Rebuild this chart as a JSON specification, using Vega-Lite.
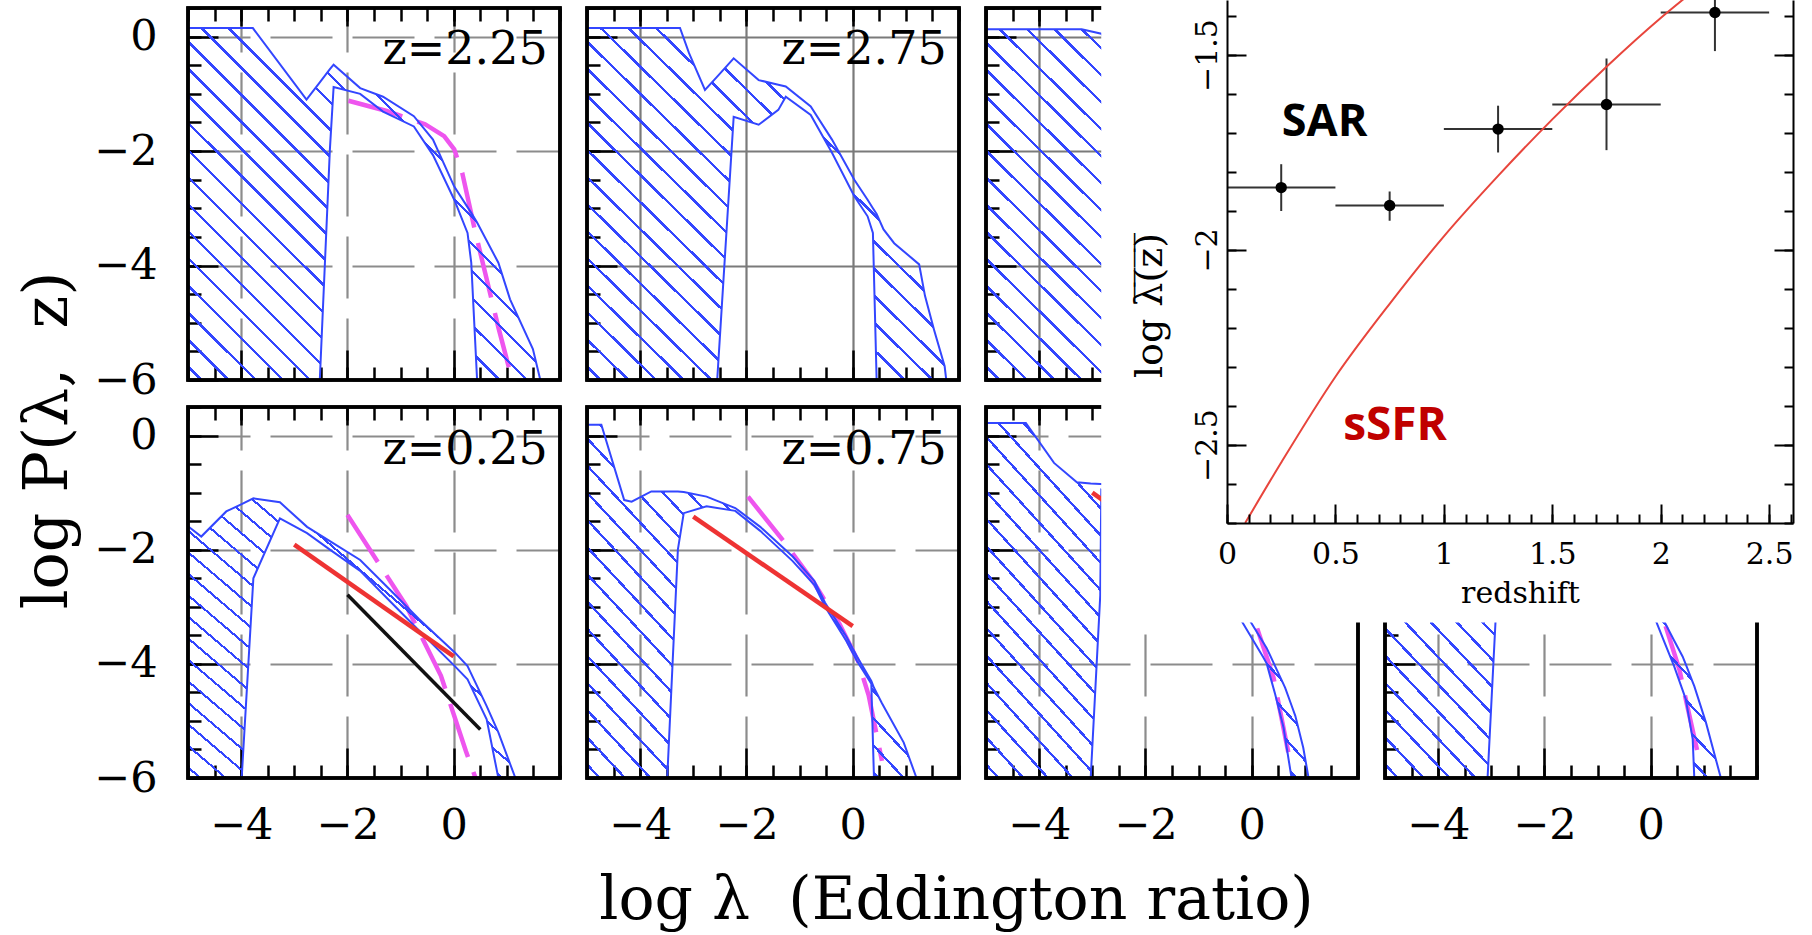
{
"width": 1812, "height": 935, "padding": 0, "autosize": {"type": "none"},
"background": "#ffffff",
"config": {
 "view": {"stroke": null},
 "axis": {"domain": false, "grid": false, "labels": false, "tickColor": "#000000", "tickWidth": 2.5, "labelFont": "DejaVu Serif", "labelFontSize": 43, "labelColor": "#000000", "labelFlush": false, "labelOverlap": false, "titleFont": "DejaVu Serif", "titleFontWeight": "normal", "titleColor": "#000000", "gridColor": "#8c8c8c", "gridWidth": 2.2, "gridOpacity": 1},
 "area": {"stroke": "#3346ff", "strokeWidth": 2, "fill": {"gradient": "linear", "x1": 0, "y1": 1, "x2": 1, "y2": 0, "stops": [
  {"offset":0.0167,"color":"rgba(51,70,255,0)"},{"offset":0.0167,"color":"#3346ff"},{"offset":0.0217,"color":"#3346ff"},{"offset":0.0217,"color":"rgba(51,70,255,0)"},
  {"offset":0.0552,"color":"rgba(51,70,255,0)"},{"offset":0.0552,"color":"#3346ff"},{"offset":0.0602,"color":"#3346ff"},{"offset":0.0602,"color":"rgba(51,70,255,0)"},
  {"offset":0.0937,"color":"rgba(51,70,255,0)"},{"offset":0.0937,"color":"#3346ff"},{"offset":0.0987,"color":"#3346ff"},{"offset":0.0987,"color":"rgba(51,70,255,0)"},
  {"offset":0.1321,"color":"rgba(51,70,255,0)"},{"offset":0.1321,"color":"#3346ff"},{"offset":0.1371,"color":"#3346ff"},{"offset":0.1371,"color":"rgba(51,70,255,0)"},
  {"offset":0.1706,"color":"rgba(51,70,255,0)"},{"offset":0.1706,"color":"#3346ff"},{"offset":0.1756,"color":"#3346ff"},{"offset":0.1756,"color":"rgba(51,70,255,0)"},
  {"offset":0.2090,"color":"rgba(51,70,255,0)"},{"offset":0.2090,"color":"#3346ff"},{"offset":0.2140,"color":"#3346ff"},{"offset":0.2140,"color":"rgba(51,70,255,0)"},
  {"offset":0.2475,"color":"rgba(51,70,255,0)"},{"offset":0.2475,"color":"#3346ff"},{"offset":0.2525,"color":"#3346ff"},{"offset":0.2525,"color":"rgba(51,70,255,0)"},
  {"offset":0.2860,"color":"rgba(51,70,255,0)"},{"offset":0.2860,"color":"#3346ff"},{"offset":0.2910,"color":"#3346ff"},{"offset":0.2910,"color":"rgba(51,70,255,0)"},
  {"offset":0.3244,"color":"rgba(51,70,255,0)"},{"offset":0.3244,"color":"#3346ff"},{"offset":0.3294,"color":"#3346ff"},{"offset":0.3294,"color":"rgba(51,70,255,0)"},
  {"offset":0.3629,"color":"rgba(51,70,255,0)"},{"offset":0.3629,"color":"#3346ff"},{"offset":0.3679,"color":"#3346ff"},{"offset":0.3679,"color":"rgba(51,70,255,0)"},
  {"offset":0.4013,"color":"rgba(51,70,255,0)"},{"offset":0.4013,"color":"#3346ff"},{"offset":0.4063,"color":"#3346ff"},{"offset":0.4063,"color":"rgba(51,70,255,0)"},
  {"offset":0.4398,"color":"rgba(51,70,255,0)"},{"offset":0.4398,"color":"#3346ff"},{"offset":0.4448,"color":"#3346ff"},{"offset":0.4448,"color":"rgba(51,70,255,0)"},
  {"offset":0.4783,"color":"rgba(51,70,255,0)"},{"offset":0.4783,"color":"#3346ff"},{"offset":0.4833,"color":"#3346ff"},{"offset":0.4833,"color":"rgba(51,70,255,0)"},
  {"offset":0.5167,"color":"rgba(51,70,255,0)"},{"offset":0.5167,"color":"#3346ff"},{"offset":0.5217,"color":"#3346ff"},{"offset":0.5217,"color":"rgba(51,70,255,0)"},
  {"offset":0.5552,"color":"rgba(51,70,255,0)"},{"offset":0.5552,"color":"#3346ff"},{"offset":0.5602,"color":"#3346ff"},{"offset":0.5602,"color":"rgba(51,70,255,0)"},
  {"offset":0.5937,"color":"rgba(51,70,255,0)"},{"offset":0.5937,"color":"#3346ff"},{"offset":0.5987,"color":"#3346ff"},{"offset":0.5987,"color":"rgba(51,70,255,0)"},
  {"offset":0.6321,"color":"rgba(51,70,255,0)"},{"offset":0.6321,"color":"#3346ff"},{"offset":0.6371,"color":"#3346ff"},{"offset":0.6371,"color":"rgba(51,70,255,0)"},
  {"offset":0.6706,"color":"rgba(51,70,255,0)"},{"offset":0.6706,"color":"#3346ff"},{"offset":0.6756,"color":"#3346ff"},{"offset":0.6756,"color":"rgba(51,70,255,0)"},
  {"offset":0.7090,"color":"rgba(51,70,255,0)"},{"offset":0.7090,"color":"#3346ff"},{"offset":0.7140,"color":"#3346ff"},{"offset":0.7140,"color":"rgba(51,70,255,0)"},
  {"offset":0.7475,"color":"rgba(51,70,255,0)"},{"offset":0.7475,"color":"#3346ff"},{"offset":0.7525,"color":"#3346ff"},{"offset":0.7525,"color":"rgba(51,70,255,0)"},
  {"offset":0.7860,"color":"rgba(51,70,255,0)"},{"offset":0.7860,"color":"#3346ff"},{"offset":0.7910,"color":"#3346ff"},{"offset":0.7910,"color":"rgba(51,70,255,0)"},
  {"offset":0.8244,"color":"rgba(51,70,255,0)"},{"offset":0.8244,"color":"#3346ff"},{"offset":0.8294,"color":"#3346ff"},{"offset":0.8294,"color":"rgba(51,70,255,0)"},
  {"offset":0.8629,"color":"rgba(51,70,255,0)"},{"offset":0.8629,"color":"#3346ff"},{"offset":0.8679,"color":"#3346ff"},{"offset":0.8679,"color":"rgba(51,70,255,0)"},
  {"offset":0.9013,"color":"rgba(51,70,255,0)"},{"offset":0.9013,"color":"#3346ff"},{"offset":0.9063,"color":"#3346ff"},{"offset":0.9063,"color":"rgba(51,70,255,0)"},
  {"offset":0.9398,"color":"rgba(51,70,255,0)"},{"offset":0.9398,"color":"#3346ff"},{"offset":0.9448,"color":"#3346ff"},{"offset":0.9448,"color":"rgba(51,70,255,0)"},
  {"offset":0.9783,"color":"rgba(51,70,255,0)"},{"offset":0.9783,"color":"#3346ff"},{"offset":0.9833,"color":"#3346ff"},{"offset":0.9833,"color":"rgba(51,70,255,0)"}
 ]}}
},
"datasets": {
 "bands": [
  {"z":"2.25","x":-5,"upper":0.15,"lower":-6},{"z":"2.25","x":-3.78,"upper":0.15,"lower":-6},{"z":"2.25","x":-2.77,"upper":-1.1,"lower":-6},{"z":"2.25","x":-2.52,"upper":-0.8,"lower":-6},{"z":"2.25","x":-2.33,"upper":-0.57,"lower":-1.97},{"z":"2.25","x":-2.26,"upper":-0.49,"lower":-0.88},{"z":"2.25","x":-1.76,"upper":-0.9,"lower":-1.0},{"z":"2.25","x":-1.33,"upper":-1.05,"lower":-1.31},{"z":"2.25","x":-0.75,"upper":-1.39,"lower":-1.57},{"z":"2.25","x":-0.39,"upper":-1.8,"lower":-2.07},{"z":"2.25","x":0.01,"upper":-2.62,"lower":-2.85},{"z":"2.25","x":0.26,"upper":-2.98,"lower":-3.43},{"z":"2.25","x":0.33,"upper":-3.08,"lower":-3.95},{"z":"2.25","x":0.44,"upper":-3.25,"lower":-6},{"z":"2.25","x":0.84,"upper":-3.95,"lower":-6},{"z":"2.25","x":1.06,"upper":-4.59,"lower":-6},{"z":"2.25","x":1.49,"upper":-5.46,"lower":-6},{"z":"2.25","x":1.63,"upper":-6,"lower":-6},
  {"z":"2.75","x":-5,"upper":0.15,"lower":-6},{"z":"2.75","x":-3.25,"upper":0.15,"lower":-6},{"z":"2.75","x":-3.08,"upper":-0.29,"lower":-6},{"z":"2.75","x":-2.78,"upper":-0.93,"lower":-6},{"z":"2.75","x":-2.55,"upper":-0.7,"lower":-6},{"z":"2.75","x":-2.24,"upper":-0.38,"lower":-1.4},{"z":"2.75","x":-1.77,"upper":-0.76,"lower":-1.54},{"z":"2.75","x":-1.4,"upper":-0.84,"lower":-1.28},{"z":"2.75","x":-1.26,"upper":-0.87,"lower":-1.05},{"z":"2.75","x":-0.79,"upper":-1.22,"lower":-1.37},{"z":"2.75","x":-0.39,"upper":-1.8,"lower":-2.03},{"z":"2.75","x":0.03,"upper":-2.5,"lower":-2.79},{"z":"2.75","x":0.28,"upper":-2.85,"lower":-3.14},{"z":"2.75","x":0.38,"upper":-3.0,"lower":-3.43},{"z":"2.75","x":0.45,"upper":-3.1,"lower":-6},{"z":"2.75","x":0.58,"upper":-3.37,"lower":-6},{"z":"2.75","x":0.78,"upper":-3.61,"lower":-6},{"z":"2.75","x":1.25,"upper":-3.98,"lower":-6},{"z":"2.75","x":1.36,"upper":-4.53,"lower":-6},{"z":"2.75","x":1.53,"upper":-5.12,"lower":-6},{"z":"2.75","x":1.73,"upper":-5.76,"lower":-6},{"z":"2.75","x":1.76,"upper":-6,"lower":-6},
  {"z":"3.25","x":-5,"upper":0.13,"lower":-6},{"z":"3.25","x":-3.2,"upper":0.13,"lower":-6},{"z":"3.25","x":-2.83,"upper":0.05,"lower":-6},{"z":"3.25","x":-2.3,"upper":-0.5,"lower":-6},{"z":"3.25","x":-2.1,"upper":-0.8,"lower":-1.2},{"z":"3.25","x":-1.0,"upper":-1.5,"lower":-1.8},{"z":"3.25","x":0.0,"upper":-2.6,"lower":-3.0},{"z":"3.25","x":0.4,"upper":-3.2,"lower":-6},{"z":"3.25","x":1.2,"upper":-4.5,"lower":-6},{"z":"3.25","x":1.7,"upper":-6,"lower":-6},
  {"z":"0.25","x":-5,"upper":-1.59,"lower":-6},{"z":"0.25","x":-4.75,"upper":-1.77,"lower":-6},{"z":"0.25","x":-4.28,"upper":-1.33,"lower":-6},{"z":"0.25","x":-3.99,"upper":-1.2,"lower":-6},{"z":"0.25","x":-3.77,"upper":-1.1,"lower":-2.5},{"z":"0.25","x":-3.27,"upper":-1.17,"lower":-1.45},{"z":"0.25","x":-2.76,"upper":-1.6,"lower":-1.71},{"z":"0.25","x":-2.33,"upper":-1.85,"lower":-2.0},{"z":"0.25","x":-1.76,"upper":-2.18,"lower":-2.37},{"z":"0.25","x":-1.18,"upper":-2.72,"lower":-2.92},{"z":"0.25","x":-0.65,"upper":-3.22,"lower":-3.42},{"z":"0.25","x":0.02,"upper":-3.8,"lower":-4.04},{"z":"0.25","x":0.26,"upper":-4.04,"lower":-4.27},{"z":"0.25","x":0.62,"upper":-4.74,"lower":-4.97},{"z":"0.25","x":0.84,"upper":-5.2,"lower":-6},{"z":"0.25","x":1.16,"upper":-6,"lower":-6},
  {"z":"0.75","x":-5,"upper":0.19,"lower":-6},{"z":"0.75","x":-4.73,"upper":0.19,"lower":-6},{"z":"0.75","x":-4.3,"upper":-1.13,"lower":-6},{"z":"0.75","x":-4.16,"upper":-1.16,"lower":-6},{"z":"0.75","x":-3.79,"upper":-0.98,"lower":-6},{"z":"0.75","x":-3.49,"upper":-0.98,"lower":-6},{"z":"0.75","x":-3.29,"upper":-0.98,"lower":-2.0},{"z":"0.75","x":-3.18,"upper":-0.99,"lower":-1.36},{"z":"0.75","x":-2.75,"upper":-1.07,"lower":-1.24},{"z":"0.75","x":-2.21,"upper":-1.27,"lower":-1.32},{"z":"0.75","x":-1.74,"upper":-1.6,"lower":-1.67},{"z":"0.75","x":-1.13,"upper":-2.12,"lower":-2.2},{"z":"0.75","x":-0.72,"upper":-2.55,"lower":-2.62},{"z":"0.75","x":-0.52,"upper":-2.93,"lower":-3.0},{"z":"0.75","x":-0.12,"upper":-3.52,"lower":-3.6},{"z":"0.75","x":0.08,"upper":-3.87,"lower":-3.95},{"z":"0.75","x":0.35,"upper":-4.3,"lower":-4.35},{"z":"0.75","x":0.4,"upper":-4.42,"lower":-6},{"z":"0.75","x":0.55,"upper":-4.69,"lower":-6},{"z":"0.75","x":0.96,"upper":-5.38,"lower":-6},{"z":"0.75","x":1.2,"upper":-6,"lower":-6},
  {"z":"1.25","x":-5,"upper":0.22,"lower":-6},{"z":"1.25","x":-4.25,"upper":0.22,"lower":-6},{"z":"1.25","x":-3.72,"upper":-0.48,"lower":-6},{"z":"1.25","x":-3.29,"upper":-0.82,"lower":-6},{"z":"1.25","x":-3.03,"upper":-0.84,"lower":-6},{"z":"1.25","x":-2.85,"upper":-0.85,"lower":-2.8},{"z":"1.25","x":-2.83,"upper":-0.85,"lower":-0.95},{"z":"1.25","x":-2.0,"upper":-1.1,"lower":-1.3},{"z":"1.25","x":-1.0,"upper":-1.8,"lower":-2.1},{"z":"1.25","x":-0.5,"upper":-2.5,"lower":-2.8},{"z":"1.25","x":-0.19,"upper":-2.95,"lower":-3.25},{"z":"1.25","x":-0.03,"upper":-3.25,"lower":-3.5},{"z":"1.25","x":0.22,"upper":-3.63,"lower":-3.89},{"z":"1.25","x":0.28,"upper":-3.72,"lower":-3.99},{"z":"1.25","x":0.44,"upper":-4.04,"lower":-4.53},{"z":"1.25","x":0.6,"upper":-4.36,"lower":-5.12},{"z":"1.25","x":0.63,"upper":-4.42,"lower":-5.3},{"z":"1.25","x":0.75,"upper":-4.73,"lower":-6},{"z":"1.25","x":0.82,"upper":-4.91,"lower":-6},{"z":"1.25","x":0.97,"upper":-5.47,"lower":-6},{"z":"1.25","x":1.07,"upper":-6,"lower":-6},
  {"z":"1.75","x":-5,"upper":0.2,"lower":-6},{"z":"1.75","x":-3.07,"upper":-0.9,"lower":-6},{"z":"1.75","x":-2.92,"upper":-0.95,"lower":-3.25},{"z":"1.75","x":-2.85,"upper":-1.0,"lower":-1.2},{"z":"1.75","x":-1.5,"upper":-1.5,"lower":-1.8},{"z":"1.75","x":-0.5,"upper":-2.5,"lower":-2.8},{"z":"1.75","x":0.1,"upper":-3.0,"lower":-3.25},{"z":"1.75","x":0.25,"upper":-3.25,"lower":-3.6},{"z":"1.75","x":0.44,"upper":-3.59,"lower":-4.04},{"z":"1.75","x":0.6,"upper":-3.87,"lower":-4.46},{"z":"1.75","x":0.66,"upper":-4.01,"lower":-4.62},{"z":"1.75","x":0.79,"upper":-4.32,"lower":-5.32},{"z":"1.75","x":0.82,"upper":-4.39,"lower":-6},{"z":"1.75","x":1.04,"upper":-5.03,"lower":-6},{"z":"1.75","x":1.32,"upper":-6,"lower":-6}
 ],
 "curves": [
  {"z":"2.25","curve":"model","x":-1.98,"y":-1.12},{"z":"2.25","curve":"model","x":-1.26,"y":-1.3},{"z":"2.25","curve":"model","x":-0.54,"y":-1.53},{"z":"2.25","curve":"model","x":-0.18,"y":-1.74},{"z":"2.25","curve":"model","x":0.01,"y":-1.97},{"z":"2.25","curve":"model","x":0.16,"y":-2.38},{"z":"2.25","curve":"model","x":0.41,"y":-3.43},{"z":"2.25","curve":"model","x":0.84,"y":-5.08},{"z":"2.25","curve":"model","x":1.1,"y":-6},
  {"z":"0.25","curve":"model","x":-2.0,"y":-1.39},{"z":"0.25","curve":"model","x":-0.89,"y":-2.99},{"z":"0.25","curve":"model","x":-0.24,"y":-4.21},{"z":"0.25","curve":"model","x":0.23,"y":-5.53},{"z":"0.25","curve":"model","x":0.41,"y":-6},
  {"z":"0.25","curve":"fit","x":-3.0,"y":-1.91},{"z":"0.25","curve":"fit","x":0.0,"y":-3.87},
  {"z":"0.25","curve":"lowz","x":-2.0,"y":-2.79},{"z":"0.25","curve":"lowz","x":0.5,"y":-5.15},
  {"z":"0.75","curve":"model","x":-1.97,"y":-1.07},{"z":"0.75","curve":"model","x":-1.3,"y":-1.85},{"z":"0.75","curve":"model","x":-0.75,"y":-2.55},{"z":"0.75","curve":"model","x":-0.25,"y":-3.3},{"z":"0.75","curve":"model","x":0.1,"y":-3.95},{"z":"0.75","curve":"model","x":0.3,"y":-4.55},{"z":"0.75","curve":"model","x":0.55,"y":-5.7},
  {"z":"0.75","curve":"fit","x":-3.0,"y":-1.42},{"z":"0.75","curve":"fit","x":0.0,"y":-3.34},
  {"z":"1.25","curve":"model","x":-0.6,"y":-2.3},{"z":"1.25","curve":"model","x":0.1,"y":-3.37},{"z":"1.25","curve":"model","x":0.41,"y":-4.24},{"z":"1.25","curve":"model","x":0.72,"y":-5.7},
  {"z":"1.25","curve":"fit","x":-3.0,"y":-1.0},{"z":"1.25","curve":"fit","x":0.0,"y":-3.0},
  {"z":"1.75","curve":"model","x":-0.3,"y":-2.2},{"z":"1.75","curve":"model","x":0.25,"y":-3.25},{"z":"1.75","curve":"model","x":0.54,"y":-4.1},{"z":"1.75","curve":"model","x":0.66,"y":-4.62},{"z":"1.75","curve":"model","x":0.91,"y":-5.67}
 ],
 "sar": [
  {"z":0.25,"zlo":0,"zhi":0.5,"lam":-1.84,"lo":-1.9,"hi":-1.78},
  {"z":0.75,"zlo":0.5,"zhi":1,"lam":-1.886,"lo":-1.925,"hi":-1.85},
  {"z":1.25,"zlo":1,"zhi":1.5,"lam":-1.69,"lo":-1.75,"hi":-1.63},
  {"z":1.75,"zlo":1.5,"zhi":2,"lam":-1.627,"lo":-1.744,"hi":-1.509},
  {"z":2.25,"zlo":2,"zhi":2.5,"lam":-1.391,"lo":-1.49,"hi":-1.29}
 ],
 "ssfr": [
  {"z":0.084,"lam":-2.7},{"z":0.25,"lam":-2.545},{"z":0.5,"lam":-2.325},{"z":0.75,"lam":-2.138},{"z":1.0,"lam":-1.965},{"z":1.25,"lam":-1.81},{"z":1.5,"lam":-1.665},{"z":1.75,"lam":-1.53},{"z":2.0,"lam":-1.405},{"z":2.12,"lam":-1.35}
 ]
},
"layer": [
 {"layer": [
  {"data": {"name": "curves"}, "transform": [{"filter": "datum.z === '2.25' && datum.curve === 'model'"}], "mark": {"type": "line", "color": "#ee55ee", "strokeWidth": 4.5, "strokeDash": [56, 16]}, "encoding": {"x": {"field": "x", "type": "quantitative", "axis": null}, "y": {"field": "y", "type": "quantitative", "axis": null}}},
  {"data": {"name": "bands"}, "transform": [{"filter": "datum.z === '2.25'"}], "mark": {"type": "area"}, "encoding": {
    "x": {"field": "x", "type": "quantitative", "scale": {"domain": [-5, 2], "range": [188, 560], "nice": false, "zero": false}, "axis": {"orient": "bottom", "offset": -555, "values": [-4, -2, 0], "tickSize": -30, "title": null}},
    "y": {"field": "upper", "type": "quantitative", "scale": {"domain": [-6, 0.5], "range": [380, 8], "nice": false, "zero": false}, "axis": {"orient": "left", "offset": -188, "values": [0, -2, -4, -6], "tickSize": -30, "grid": true, "gridDash": [62, 20], "labels": true, "labelPadding": 61, "title": "log P(λ,\u00a0\u00a0z)", "titleFontSize": 62, "titleX": -141, "titleY": 440, "titleAngle": 270, "titleAlign": "center", "titleBaseline": "middle"}},
    "y2": {"field": "lower"}}},
  {"data": {"values": [{}]}, "mark": {"type": "rect", "fillOpacity": 0, "stroke": "#000000", "strokeWidth": 3.5}, "encoding": {
    "x": {"datum": -5, "type": "quantitative", "axis": {"orient": "bottom", "offset": -555, "values": [-5,-4.5,-4,-3.5,-3,-2.5,-2,-1.5,-1,-0.5,0,0.5,1,1.5,2], "tickSize": -13, "title": null}}, "x2": {"datum": 2},
    "y": {"datum": -6, "type": "quantitative", "axis": {"orient": "left", "offset": -188, "values": [0.5,0,-0.5,-1,-1.5,-2,-2.5,-3,-3.5,-4,-4.5,-5,-5.5,-6], "tickSize": -13, "title": null}}, "y2": {"datum": 0.5}}},
  {"data": {"values": [{}]}, "mark": {"type": "rect", "fillOpacity": 0, "stroke": "#000000", "strokeWidth": 3.5}, "encoding": {
    "x": {"datum": -5, "type": "quantitative", "axis": {"orient": "top", "offset": -8, "values": [-5,-4.5,-4,-3.5,-3,-2.5,-2,-1.5,-1,-0.5,0,0.5,1,1.5,2], "tickSize": -13, "title": null}}, "x2": {"datum": 2},
    "y": {"datum": -6, "type": "quantitative", "axis": null}, "y2": {"datum": 0.5}}},
  {"data": {"values": [{"label": "z=2.25"}]}, "mark": {"type": "text", "align": "right", "baseline": "middle", "font": "DejaVu Serif", "fontSize": 46, "color": "#000000"}, "encoding": {
    "x": {"datum": 1.77, "type": "quantitative", "axis": {"orient": "top", "offset": -8, "values": [-4, -2, 0], "tickSize": -18, "grid": true, "gridDash": [62, 20], "title": null}},
    "y": {"datum": -0.24, "type": "quantitative", "axis": null}, "text": {"field": "label"}}}
 ], "resolve": {"axis": {"x": "independent", "y": "independent"}}},

 {"layer": [
  {"data": {"name": "bands"}, "transform": [{"filter": "datum.z === '2.75'"}], "mark": {"type": "area"}, "encoding": {
    "x": {"field": "x", "type": "quantitative", "scale": {"domain": [-5, 2], "range": [587, 959], "nice": false, "zero": false}, "axis": {"orient": "bottom", "offset": -555, "values": [-4, -2, 0], "tickSize": -30, "title": null}},
    "y": {"field": "upper", "type": "quantitative", "scale": {"domain": [-6, 0.5], "range": [380, 8], "nice": false, "zero": false}, "axis": {"orient": "left", "offset": -587, "values": [0, -2, -4], "tickSize": -30, "grid": true, "gridColor": "#7a7a7a", "title": null}},
    "y2": {"field": "lower"}}},
  {"data": {"values": [{}]}, "mark": {"type": "rect", "fillOpacity": 0, "stroke": "#000000", "strokeWidth": 3.5}, "encoding": {
    "x": {"datum": -5, "type": "quantitative", "axis": {"orient": "bottom", "offset": -555, "values": [-5,-4.5,-4,-3.5,-3,-2.5,-2,-1.5,-1,-0.5,0,0.5,1,1.5,2], "tickSize": -13, "title": null}}, "x2": {"datum": 2},
    "y": {"datum": -6, "type": "quantitative", "axis": {"orient": "left", "offset": -587, "values": [0.5,0,-0.5,-1,-1.5,-2,-2.5,-3,-3.5,-4,-4.5,-5,-5.5,-6], "tickSize": -13, "title": null}}, "y2": {"datum": 0.5}}},
  {"data": {"values": [{}]}, "mark": {"type": "rect", "fillOpacity": 0, "stroke": "#000000", "strokeWidth": 3.5}, "encoding": {
    "x": {"datum": -5, "type": "quantitative", "axis": {"orient": "top", "offset": -8, "values": [-5,-4.5,-4,-3.5,-3,-2.5,-2,-1.5,-1,-0.5,0,0.5,1,1.5,2], "tickSize": -13, "title": null}}, "x2": {"datum": 2},
    "y": {"datum": -6, "type": "quantitative", "axis": null}, "y2": {"datum": 0.5}}},
  {"data": {"values": [{"label": "z=2.75"}]}, "mark": {"type": "text", "align": "right", "baseline": "middle", "font": "DejaVu Serif", "fontSize": 46, "color": "#000000"}, "encoding": {
    "x": {"datum": 1.77, "type": "quantitative", "axis": {"orient": "top", "offset": -8, "values": [-4, -2, 0], "tickSize": -18, "grid": true, "gridColor": "#7a7a7a", "title": null}},
    "y": {"datum": -0.24, "type": "quantitative", "axis": null}, "text": {"field": "label"}}}
 ], "resolve": {"axis": {"x": "independent", "y": "independent"}}},

 {"layer": [
  {"data": {"name": "bands"}, "transform": [{"filter": "datum.z === '3.25'"}], "mark": {"type": "area"}, "encoding": {
    "x": {"field": "x", "type": "quantitative", "scale": {"domain": [-5, 2], "range": [986, 1358], "nice": false, "zero": false}, "axis": {"orient": "bottom", "offset": -555, "values": [-4, -2, 0], "tickSize": -30, "title": null}},
    "y": {"field": "upper", "type": "quantitative", "scale": {"domain": [-6, 0.5], "range": [380, 8], "nice": false, "zero": false}, "axis": {"orient": "left", "offset": -986, "values": [0, -2, -4], "tickSize": -30, "grid": true, "gridColor": "#7a7a7a", "title": null}},
    "y2": {"field": "lower"}}},
  {"data": {"values": [{}]}, "mark": {"type": "rect", "fillOpacity": 0, "stroke": "#000000", "strokeWidth": 3.5}, "encoding": {
    "x": {"datum": -5, "type": "quantitative", "axis": {"orient": "bottom", "offset": -555, "values": [-5,-4.5,-4,-3.5,-3,-2.5,-2,-1.5,-1,-0.5,0,0.5,1,1.5,2], "tickSize": -13, "title": null}}, "x2": {"datum": 2},
    "y": {"datum": -6, "type": "quantitative", "axis": {"orient": "left", "offset": -986, "values": [0.5,0,-0.5,-1,-1.5,-2,-2.5,-3,-3.5,-4,-4.5,-5,-5.5,-6], "tickSize": -13, "title": null}}, "y2": {"datum": 0.5}}},
  {"data": {"values": [{}]}, "mark": {"type": "rect", "fillOpacity": 0, "stroke": "#000000", "strokeWidth": 3.5}, "encoding": {
    "x": {"datum": -5, "type": "quantitative", "axis": {"orient": "top", "offset": -8, "values": [-5,-4.5,-4,-3.5,-3,-2.5,-2,-1.5,-1,-0.5,0,0.5,1,1.5,2], "tickSize": -13, "title": null}}, "x2": {"datum": 2},
    "y": {"datum": -6, "type": "quantitative", "axis": null}, "y2": {"datum": 0.5}}},
  {"data": {"values": [{"label": "z=3.25"}]}, "mark": {"type": "text", "align": "right", "baseline": "middle", "font": "DejaVu Serif", "fontSize": 46, "color": "#000000"}, "encoding": {
    "x": {"datum": 1.77, "type": "quantitative", "axis": {"orient": "top", "offset": -8, "values": [-4, -2, 0], "tickSize": -18, "grid": true, "gridColor": "#7a7a7a", "title": null}},
    "y": {"datum": -0.24, "type": "quantitative", "axis": null}, "text": {"field": "label"}}}
 ], "resolve": {"axis": {"x": "independent", "y": "independent"}}},

 {"layer": [
  {"data": {"name": "curves"}, "transform": [{"filter": "datum.z === '0.25' && datum.curve === 'model'"}], "mark": {"type": "line", "color": "#ee55ee", "strokeWidth": 4.5, "strokeDash": [56, 16]}, "encoding": {"x": {"field": "x", "type": "quantitative", "axis": null}, "y": {"field": "y", "type": "quantitative", "axis": null}}},
  {"data": {"name": "bands"}, "transform": [{"filter": "datum.z === '0.25'"}], "mark": {"type": "area"}, "encoding": {
    "x": {"field": "x", "type": "quantitative", "scale": {"domain": [-5, 2], "range": [188, 560], "nice": false, "zero": false}, "axis": {"orient": "bottom", "offset": -157, "values": [-4, -2, 0], "tickSize": -30, "labels": true, "labelPadding": 56, "title": "log λ\u00a0\u00a0(Eddington ratio)", "titleFontSize": 60, "titleX": 956, "titleY": 140, "titleAlign": "center", "titleBaseline": "alphabetic"}},
    "y": {"field": "upper", "type": "quantitative", "scale": {"domain": [-6, 0.5], "range": [778, 407], "nice": false, "zero": false}, "axis": {"orient": "left", "offset": -188, "values": [0, -2, -4, -6], "tickSize": -30, "grid": true, "gridDash": [62, 20], "labels": true, "labelPadding": 61, "title": null}},
    "y2": {"field": "lower"}}},
  {"data": {"name": "curves"}, "transform": [{"filter": "datum.z === '0.25' && datum.curve === 'fit'"}], "mark": {"type": "line", "color": "#ee3333", "strokeWidth": 4.5}, "encoding": {"x": {"field": "x", "type": "quantitative", "axis": null}, "y": {"field": "y", "type": "quantitative", "axis": null}}},
  {"data": {"name": "curves"}, "transform": [{"filter": "datum.z === '0.25' && datum.curve === 'lowz'"}], "mark": {"type": "line", "color": "#111111", "strokeWidth": 3.5}, "encoding": {"x": {"field": "x", "type": "quantitative", "axis": null}, "y": {"field": "y", "type": "quantitative", "axis": null}}},
  {"data": {"values": [{}]}, "mark": {"type": "rect", "fillOpacity": 0, "stroke": "#000000", "strokeWidth": 3.5}, "encoding": {
    "x": {"datum": -5, "type": "quantitative", "axis": {"orient": "bottom", "offset": -157, "values": [-5,-4.5,-4,-3.5,-3,-2.5,-2,-1.5,-1,-0.5,0,0.5,1,1.5,2], "tickSize": -13, "title": null}}, "x2": {"datum": 2},
    "y": {"datum": -6, "type": "quantitative", "axis": {"orient": "left", "offset": -188, "values": [0.5,0,-0.5,-1,-1.5,-2,-2.5,-3,-3.5,-4,-4.5,-5,-5.5,-6], "tickSize": -13, "title": null}}, "y2": {"datum": 0.5}}},
  {"data": {"values": [{}]}, "mark": {"type": "rect", "fillOpacity": 0, "stroke": "#000000", "strokeWidth": 3.5}, "encoding": {
    "x": {"datum": -5, "type": "quantitative", "axis": {"orient": "top", "offset": -407, "values": [-5,-4.5,-4,-3.5,-3,-2.5,-2,-1.5,-1,-0.5,0,0.5,1,1.5,2], "tickSize": -13, "title": null}}, "x2": {"datum": 2},
    "y": {"datum": -6, "type": "quantitative", "axis": null}, "y2": {"datum": 0.5}}},
  {"data": {"values": [{"label": "z=0.25"}]}, "mark": {"type": "text", "align": "right", "baseline": "middle", "font": "DejaVu Serif", "fontSize": 46, "color": "#000000"}, "encoding": {
    "x": {"datum": 1.77, "type": "quantitative", "axis": {"orient": "top", "offset": -407, "values": [-4, -2, 0], "tickSize": -18, "grid": true, "gridDash": [62, 20], "title": null}},
    "y": {"datum": -0.25, "type": "quantitative", "axis": null}, "text": {"field": "label"}}}
 ], "resolve": {"axis": {"x": "independent", "y": "independent"}}},

 {"layer": [
  {"data": {"name": "curves"}, "transform": [{"filter": "datum.z === '0.75' && datum.curve === 'model'"}], "mark": {"type": "line", "color": "#ee55ee", "strokeWidth": 4.5, "strokeDash": [56, 16]}, "encoding": {"x": {"field": "x", "type": "quantitative", "axis": null}, "y": {"field": "y", "type": "quantitative", "axis": null}}},
  {"data": {"name": "bands"}, "transform": [{"filter": "datum.z === '0.75'"}], "mark": {"type": "area"}, "encoding": {
    "x": {"field": "x", "type": "quantitative", "scale": {"domain": [-5, 2], "range": [587, 959], "nice": false, "zero": false}, "axis": {"orient": "bottom", "offset": -157, "values": [-4, -2, 0], "tickSize": -30, "labels": true, "labelPadding": 56, "title": null}},
    "y": {"field": "upper", "type": "quantitative", "scale": {"domain": [-6, 0.5], "range": [778, 407], "nice": false, "zero": false}, "axis": {"orient": "left", "offset": -587, "values": [0, -2, -4], "tickSize": -30, "grid": true, "gridDash": [62, 20], "title": null}},
    "y2": {"field": "lower"}}},
  {"data": {"name": "curves"}, "transform": [{"filter": "datum.z === '0.75' && datum.curve === 'fit'"}], "mark": {"type": "line", "color": "#ee3333", "strokeWidth": 4.5}, "encoding": {"x": {"field": "x", "type": "quantitative", "axis": null}, "y": {"field": "y", "type": "quantitative", "axis": null}}},
  {"data": {"values": [{}]}, "mark": {"type": "rect", "fillOpacity": 0, "stroke": "#000000", "strokeWidth": 3.5}, "encoding": {
    "x": {"datum": -5, "type": "quantitative", "axis": {"orient": "bottom", "offset": -157, "values": [-5,-4.5,-4,-3.5,-3,-2.5,-2,-1.5,-1,-0.5,0,0.5,1,1.5,2], "tickSize": -13, "title": null}}, "x2": {"datum": 2},
    "y": {"datum": -6, "type": "quantitative", "axis": {"orient": "left", "offset": -587, "values": [0.5,0,-0.5,-1,-1.5,-2,-2.5,-3,-3.5,-4,-4.5,-5,-5.5,-6], "tickSize": -13, "title": null}}, "y2": {"datum": 0.5}}},
  {"data": {"values": [{}]}, "mark": {"type": "rect", "fillOpacity": 0, "stroke": "#000000", "strokeWidth": 3.5}, "encoding": {
    "x": {"datum": -5, "type": "quantitative", "axis": {"orient": "top", "offset": -407, "values": [-5,-4.5,-4,-3.5,-3,-2.5,-2,-1.5,-1,-0.5,0,0.5,1,1.5,2], "tickSize": -13, "title": null}}, "x2": {"datum": 2},
    "y": {"datum": -6, "type": "quantitative", "axis": null}, "y2": {"datum": 0.5}}},
  {"data": {"values": [{"label": "z=0.75"}]}, "mark": {"type": "text", "align": "right", "baseline": "middle", "font": "DejaVu Serif", "fontSize": 46, "color": "#000000"}, "encoding": {
    "x": {"datum": 1.77, "type": "quantitative", "axis": {"orient": "top", "offset": -407, "values": [-4, -2, 0], "tickSize": -18, "grid": true, "gridDash": [62, 20], "title": null}},
    "y": {"datum": -0.25, "type": "quantitative", "axis": null}, "text": {"field": "label"}}}
 ], "resolve": {"axis": {"x": "independent", "y": "independent"}}},

 {"layer": [
  {"data": {"name": "curves"}, "transform": [{"filter": "datum.z === '1.25' && datum.curve === 'model'"}], "mark": {"type": "line", "color": "#ee55ee", "strokeWidth": 4.5, "strokeDash": [56, 16]}, "encoding": {"x": {"field": "x", "type": "quantitative", "axis": null}, "y": {"field": "y", "type": "quantitative", "axis": null}}},
  {"data": {"name": "bands"}, "transform": [{"filter": "datum.z === '1.25'"}], "mark": {"type": "area"}, "encoding": {
    "x": {"field": "x", "type": "quantitative", "scale": {"domain": [-5, 2], "range": [986, 1358], "nice": false, "zero": false}, "axis": {"orient": "bottom", "offset": -157, "values": [-4, -2, 0], "tickSize": -30, "labels": true, "labelPadding": 56, "title": null}},
    "y": {"field": "upper", "type": "quantitative", "scale": {"domain": [-6, 0.5], "range": [778, 407], "nice": false, "zero": false}, "axis": {"orient": "left", "offset": -986, "values": [0, -2, -4], "tickSize": -30, "grid": true, "gridDash": [62, 20], "title": null}},
    "y2": {"field": "lower"}}},
  {"data": {"name": "curves"}, "transform": [{"filter": "datum.z === '1.25' && datum.curve === 'fit'"}], "mark": {"type": "line", "color": "#ee3333", "strokeWidth": 4.5}, "encoding": {"x": {"field": "x", "type": "quantitative", "axis": null}, "y": {"field": "y", "type": "quantitative", "axis": null}}},
  {"data": {"values": [{}]}, "mark": {"type": "rect", "fillOpacity": 0, "stroke": "#000000", "strokeWidth": 3.5}, "encoding": {
    "x": {"datum": -5, "type": "quantitative", "axis": {"orient": "bottom", "offset": -157, "values": [-5,-4.5,-4,-3.5,-3,-2.5,-2,-1.5,-1,-0.5,0,0.5,1,1.5,2], "tickSize": -13, "title": null}}, "x2": {"datum": 2},
    "y": {"datum": -6, "type": "quantitative", "axis": {"orient": "left", "offset": -986, "values": [0.5,0,-0.5,-1,-1.5,-2,-2.5,-3,-3.5,-4,-4.5,-5,-5.5,-6], "tickSize": -13, "title": null}}, "y2": {"datum": 0.5}}},
  {"data": {"values": [{}]}, "mark": {"type": "rect", "fillOpacity": 0, "stroke": "#000000", "strokeWidth": 3.5}, "encoding": {
    "x": {"datum": -5, "type": "quantitative", "axis": {"orient": "top", "offset": -407, "values": [-5,-4.5,-4,-3.5,-3,-2.5,-2,-1.5,-1,-0.5,0,0.5,1,1.5,2], "tickSize": -13, "title": null}}, "x2": {"datum": 2},
    "y": {"datum": -6, "type": "quantitative", "axis": null}, "y2": {"datum": 0.5}}},
  {"data": {"values": [{"label": "z=1.25"}]}, "mark": {"type": "text", "align": "right", "baseline": "middle", "font": "DejaVu Serif", "fontSize": 46, "color": "#000000"}, "encoding": {
    "x": {"datum": 1.77, "type": "quantitative", "axis": {"orient": "top", "offset": -407, "values": [-4, -2, 0], "tickSize": -18, "grid": true, "gridDash": [62, 20], "title": null}},
    "y": {"datum": -0.25, "type": "quantitative", "axis": null}, "text": {"field": "label"}}}
 ], "resolve": {"axis": {"x": "independent", "y": "independent"}}},

 {"layer": [
  {"data": {"name": "curves"}, "transform": [{"filter": "datum.z === '1.75' && datum.curve === 'model'"}], "mark": {"type": "line", "color": "#ee55ee", "strokeWidth": 4.5, "strokeDash": [56, 16]}, "encoding": {"x": {"field": "x", "type": "quantitative", "axis": null}, "y": {"field": "y", "type": "quantitative", "axis": null}}},
  {"data": {"name": "bands"}, "transform": [{"filter": "datum.z === '1.75'"}], "mark": {"type": "area"}, "encoding": {
    "x": {"field": "x", "type": "quantitative", "scale": {"domain": [-5, 2], "range": [1385, 1757], "nice": false, "zero": false}, "axis": {"orient": "bottom", "offset": -157, "values": [-4, -2, 0], "tickSize": -30, "labels": true, "labelPadding": 56, "title": null}},
    "y": {"field": "upper", "type": "quantitative", "scale": {"domain": [-6, 0.5], "range": [778, 407], "nice": false, "zero": false}, "axis": {"orient": "left", "offset": -1385, "values": [0, -2, -4], "tickSize": -30, "grid": true, "gridDash": [62, 20], "title": null}},
    "y2": {"field": "lower"}}},
  {"data": {"values": [{}]}, "mark": {"type": "rect", "fillOpacity": 0, "stroke": "#000000", "strokeWidth": 3.5}, "encoding": {
    "x": {"datum": -5, "type": "quantitative", "axis": {"orient": "bottom", "offset": -157, "values": [-5,-4.5,-4,-3.5,-3,-2.5,-2,-1.5,-1,-0.5,0,0.5,1,1.5,2], "tickSize": -13, "title": null}}, "x2": {"datum": 2},
    "y": {"datum": -6, "type": "quantitative", "axis": {"orient": "left", "offset": -1385, "values": [0.5,0,-0.5,-1,-1.5,-2,-2.5,-3,-3.5,-4,-4.5,-5,-5.5,-6], "tickSize": -13, "title": null}}, "y2": {"datum": 0.5}}},
  {"data": {"values": [{}]}, "mark": {"type": "rect", "fillOpacity": 0, "stroke": "#000000", "strokeWidth": 3.5}, "encoding": {
    "x": {"datum": -5, "type": "quantitative", "axis": {"orient": "top", "offset": -407, "values": [-5,-4.5,-4,-3.5,-3,-2.5,-2,-1.5,-1,-0.5,0,0.5,1,1.5,2], "tickSize": -13, "title": null}}, "x2": {"datum": 2},
    "y": {"datum": -6, "type": "quantitative", "axis": null}, "y2": {"datum": 0.5}}},
  {"data": {"values": [{"label": "z=1.75"}]}, "mark": {"type": "text", "align": "right", "baseline": "middle", "font": "DejaVu Serif", "fontSize": 46, "color": "#000000"}, "encoding": {
    "x": {"datum": 1.77, "type": "quantitative", "axis": {"orient": "top", "offset": -407, "values": [-4, -2, 0], "tickSize": -18, "grid": true, "gridDash": [62, 20], "title": null}},
    "y": {"datum": -0.25, "type": "quantitative", "axis": null}, "text": {"field": "label"}}}
 ], "resolve": {"axis": {"x": "independent", "y": "independent"}}},

 {"layer": [
  {"data": {"values": [{}]}, "mark": {"type": "rect", "color": "#ffffff"}, "encoding": {
    "x": {"datum": -0.58, "type": "quantitative", "axis": null}, "x2": {"datum": 2.75},
    "y": {"datum": -2.955, "type": "quantitative", "axis": null}, "y2": {"datum": -1.2}}},
  {"data": {"name": "sar"}, "mark": {"type": "rule", "color": "#333333", "strokeWidth": 2}, "encoding": {
    "x": {"field": "zlo", "type": "quantitative", "axis": null}, "x2": {"field": "zhi"},
    "y": {"field": "lam", "type": "quantitative", "axis": {"orient": "right", "offset": -19, "values": [-1.5, -2, -2.5], "tickSize": -19, "tickWidth": 2, "domain": true, "domainColor": "#000000", "domainWidth": 2, "title": null, "zindex": 1}}}},
  {"data": {"name": "sar"}, "mark": {"type": "rule", "color": "#333333", "strokeWidth": 2}, "encoding": {
    "x": {"field": "z", "type": "quantitative", "axis": null},
    "y": {"field": "lo", "type": "quantitative", "axis": {"orient": "right", "offset": -19, "values": [-2.7,-2.6,-2.5,-2.4,-2.3,-2.2,-2.1,-2.0,-1.9,-1.8,-1.7,-1.6,-1.5,-1.4], "tickSize": -9, "tickWidth": 2, "title": null, "zindex": 1}}, "y2": {"field": "hi"}}},
  {"data": {"name": "ssfr"}, "mark": {"type": "line", "color": "#e8453c", "strokeWidth": 2, "interpolate": "monotone"}, "encoding": {
    "x": {"field": "z", "type": "quantitative", "scale": {"domain": [0, 2.61], "range": [1227, 1793], "nice": false, "zero": false}, "axis": {"orient": "bottom", "offset": -412, "values": [0, 0.5, 1, 1.5, 2, 2.5], "format": "~g", "tickSize": -19, "tickWidth": 2, "labels": true, "labelFontSize": 30, "labelPadding": 35, "domain": true, "domainColor": "#000000", "domainWidth": 2, "title": "redshift", "titleFontSize": 30, "titleX": 1520, "titleY": 70, "titleAlign": "center", "titleBaseline": "middle", "zindex": 1}},
    "y": {"field": "lam", "type": "quantitative", "scale": {"domain": [-2.7, -1.359], "range": [523, 0], "nice": false, "zero": false}, "axis": {"orient": "left", "offset": -1227, "values": [-1.5, -2, -2.5], "format": "~g", "tickSize": -19, "tickWidth": 2, "labels": true, "labelFontSize": 30, "labelAngle": 270, "labelAlign": "center", "labelBaseline": "bottom", "labelPadding": 24, "domain": true, "domainColor": "#000000", "domainWidth": 2, "title": "log λ̅(̅z̅)̅", "titleFontSize": 38, "titleX": -77, "titleY": 305, "titleAngle": 270, "titleAlign": "center", "titleBaseline": "middle", "zindex": 1}}}},
  {"data": {"name": "sar"}, "mark": {"type": "point", "filled": true, "color": "#000000", "size": 130, "opacity": 1}, "encoding": {
    "x": {"field": "z", "type": "quantitative", "axis": {"orient": "bottom", "offset": -412, "values": [0,0.1,0.2,0.3,0.4,0.5,0.6,0.7,0.8,0.9,1,1.1,1.2,1.3,1.4,1.5,1.6,1.7,1.8,1.9,2,2.1,2.2,2.3,2.4,2.5,2.6], "tickSize": -9, "tickWidth": 2, "title": null, "zindex": 1}},
    "y": {"field": "lam", "type": "quantitative", "axis": {"orient": "left", "offset": -1227, "values": [-2.7,-2.6,-2.5,-2.4,-2.3,-2.2,-2.1,-2.0,-1.9,-1.8,-1.7,-1.6,-1.5,-1.4], "tickSize": -9, "tickWidth": 2, "title": null, "zindex": 1}}}},
  {"data": {"values": [{"label": "SAR"}]}, "mark": {"type": "text", "font": "Open Sans", "fontWeight": "bold", "fontSize": 45, "color": "#000000", "align": "center", "baseline": "middle"}, "encoding": {
    "x": {"datum": 0.45, "type": "quantitative", "axis": null}, "y": {"datum": -1.673, "type": "quantitative", "axis": null}, "text": {"field": "label"}}},
  {"data": {"values": [{"label": "sSFR"}]}, "mark": {"type": "text", "font": "Open Sans", "fontWeight": "bold", "fontSize": 46, "color": "#c00000", "align": "center", "baseline": "middle"}, "encoding": {
    "x": {"datum": 0.775, "type": "quantitative", "axis": null}, "y": {"datum": -2.451, "type": "quantitative", "axis": null}, "text": {"field": "label"}}}
 ], "resolve": {"axis": {"x": "independent", "y": "independent"}}}
],
"resolve": {"scale": {"x": "independent", "y": "independent"}}
}
